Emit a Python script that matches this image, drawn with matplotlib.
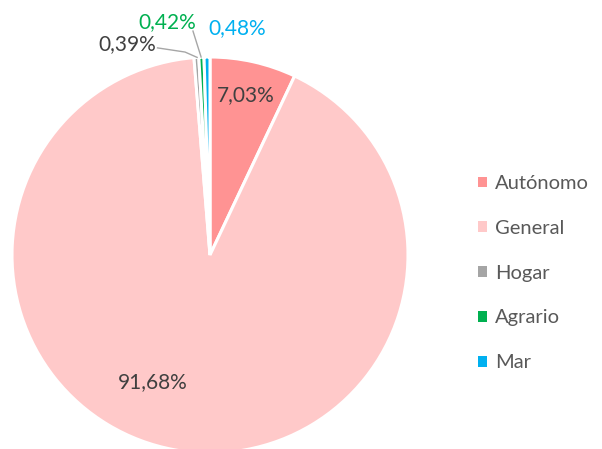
import matplotlib.pyplot as plt
from matplotlib.patches import Patch

plt.rcParams['font.family'] = ['Lato', 'DejaVu Sans']

# datos
categorias = ['Autónomo', 'General', 'Hogar', 'Agrario', 'Mar']
porcentajes = [7.03, 91.68, 0.39, 0.42, 0.48]
colores = ['#FF9393', '#FFC9C9', '#A5A5A5', '#00B050', '#00B0F0']
etiquetas = ['7,03%', '91,68%', '0,39%', '0,42%', '0,48%']
color_texto = ['#404040', '#404040', '#404040', '#00B050', '#00B0F0']

fig = plt.figure(figsize=(6.02, 4.49), dpi=100)
# centro del pie ~ (210, 255) px, radio ~198 px
ax = fig.add_axes([(210 - 198) / 602, (449 - 255 - 198) / 449, 396 / 602, 396 / 449])
ax.pie(porcentajes, colors=colores, startangle=90, counterclock=False,
       wedgeprops=dict(edgecolor='white', linewidth=2.2))
ax.set_xlim(-1, 1)
ax.set_ylim(-1, 1)
ax.set_aspect('equal')
ax.axis('off')

# posiciones de etiquetas (coordenadas de datos, radio = 1)
pos = [(0.18, 0.81), (-0.29, -0.64), (-0.42, 1.066), (-0.217, 1.177), (0.136, 1.146)]
for (x, y), t, c in zip(pos, etiquetas, color_texto):
    ax.text(x, y, t, ha='center', va='center', fontsize=15, color=c, clip_on=False)

# lineas guia para las porciones pequeñas
ax.plot([-0.265, -0.126, -0.065], [1.046, 1.025, 0.998], color='#A6A6A6', lw=1, clip_on=False)
ax.plot([-0.086, -0.045], [1.131, 1.0], color='#A6A6A6', lw=1, clip_on=False)

handles = [Patch(facecolor=c, edgecolor='none') for c in colores]
leg = fig.legend(handles, categorias, loc='upper left', bbox_to_anchor=(460 / 602, 1 - 157 / 449),
                 frameon=False, fontsize=14.5, handlelength=0.45, handleheight=0.45,
                 handletextpad=0.4, labelspacing=1.38)
for t in leg.get_texts():
    t.set_color('#595959')

fig.savefig('out.png', dpi=100)
